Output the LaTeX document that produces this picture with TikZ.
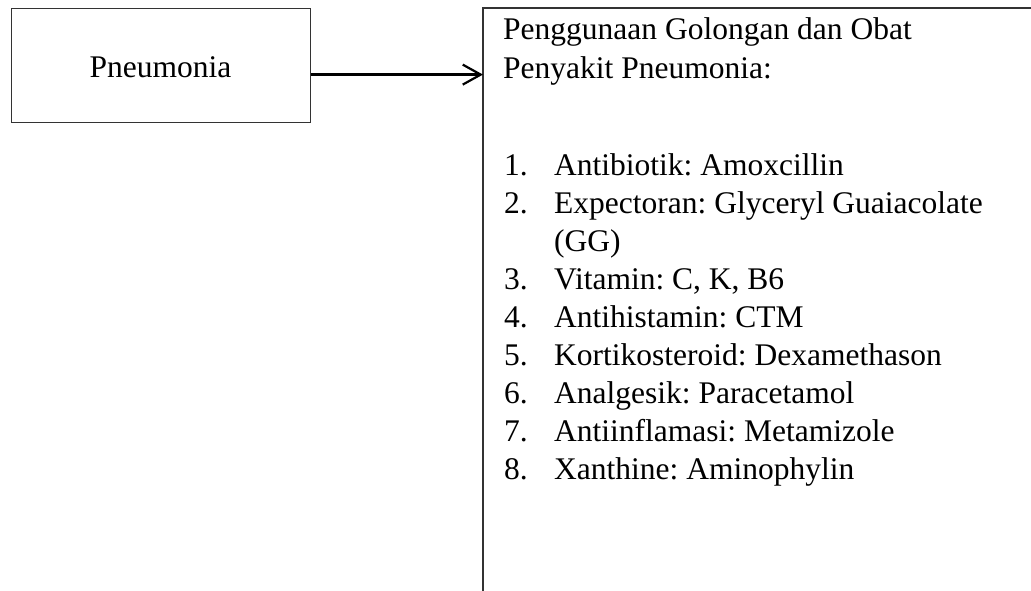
\documentclass[tikz,border=0pt]{standalone}
\usepackage{fontspec}
\setmainfont{Liberation Serif}
\usetikzlibrary{arrows.meta}
\begin{document}
\frenchspacing
\begin{tikzpicture}[x=1pt,y=-1pt,
  txt/.style={inner sep=0pt, anchor=base west, font=\fontsize{31.5}{38}\selectfont},
  box/.style={draw=black!80, line width=1.2pt},
  conn/.style={line width=2.4pt, -{Straight Barb[length=18pt,width=20pt,line width=2.2pt]}}]
\useasboundingbox (0,0) rectangle (1031,590);
\node[box, anchor=north west, minimum width=299pt, minimum height=114pt, inner sep=0pt] (pn) at (11,8) {};
\node[txt, anchor=base] (pnt) at (160.5,77) {Pneumonia};
\node[anchor=north west, minimum width=560pt, minimum height=590pt, inner sep=0pt] (drugs) at (483,8) {};
\draw[box] (drugs.south west) -- (drugs.north west) -- (drugs.north east);
\coordinate (a0) at ([yshift=-9pt]pn.east);
\draw[conn] (a0) -- (a0 -| drugs.west);
\node[txt] (h1) at (503,39) {Penggunaan Golongan dan Obat};
\node[txt] (h2) at (503,78) {Penyakit Pneumonia:};
\foreach \i/\t/\k in {1/Antibiotik: Amoxcillin/0, 2/Expectoran: Glyceryl Guaiacolate/1, 3/{Vitamin: C, K, B6}/3, 4/Antihistamin: CTM/4, 5/Kortikosteroid: Dexamethason/5, 6/Analgesik: Paracetamol/6, 7/Antiinflamasi: Metamizole/7, 8/Xanthine: Aminophylin/8}{
  \node[txt] (n\i) at (504,175+38*\k) {\i.};
  \node[txt] (t\i) at (554,175+38*\k) {\t};
}
\node[txt] (t2b) at (554,175+38*2) {(GG)};
\end{tikzpicture}
\end{document}
